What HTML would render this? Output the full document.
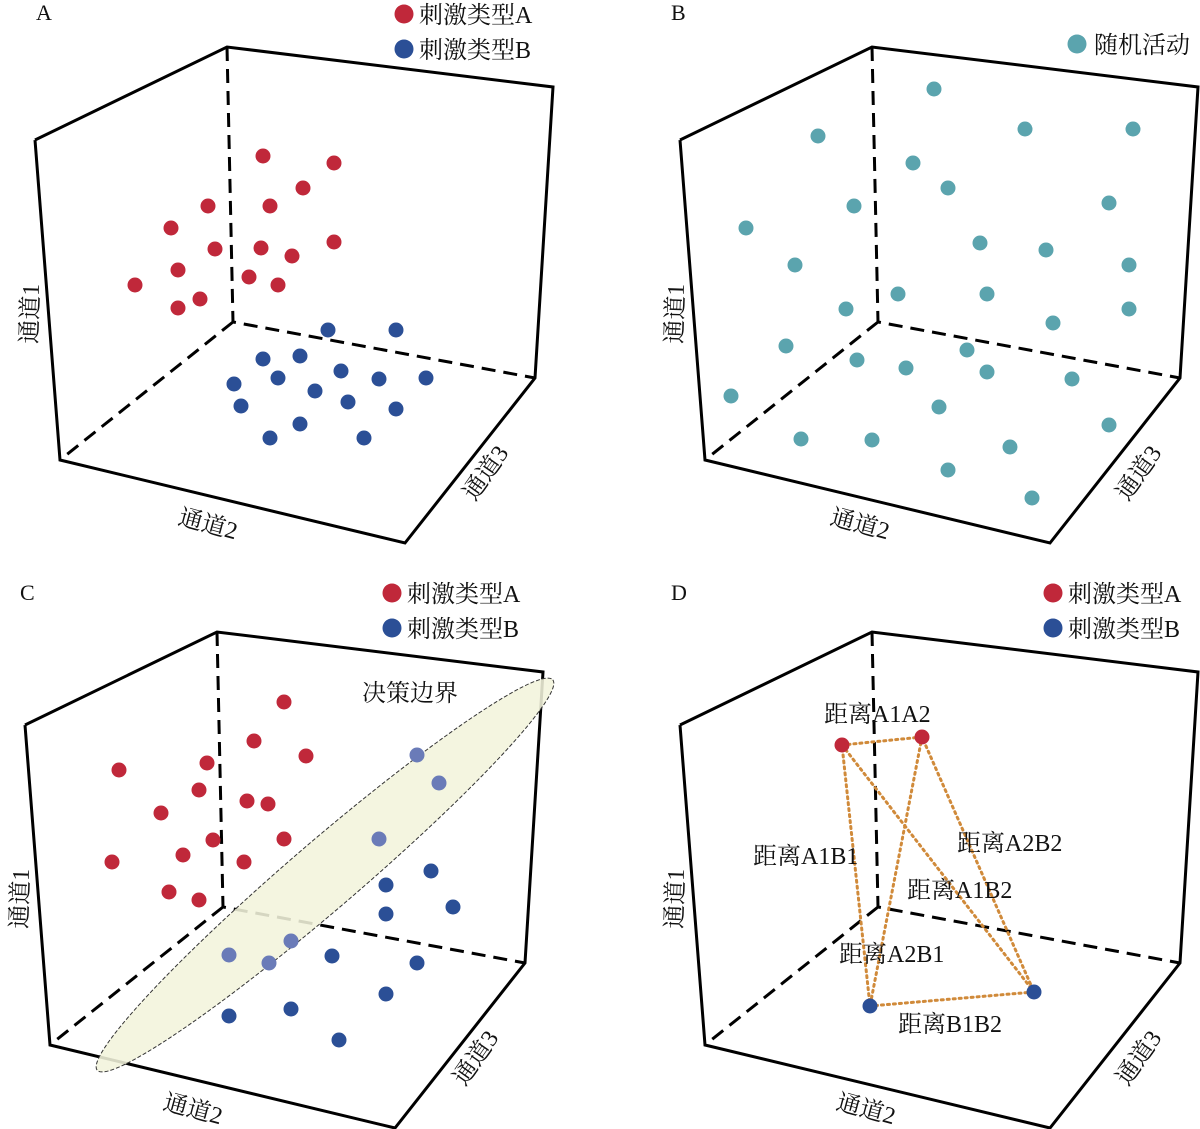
<!DOCTYPE html>
<html><head><meta charset="utf-8"><style>
html,body{margin:0;padding:0;background:#fff}
svg{display:block}
text{font-family:"Liberation Serif","Noto Serif CJK SC",serif;fill:#111}
.s{stroke:#000;stroke-width:3;fill:none}
.d{stroke:#000;stroke-width:3;fill:none;stroke-dasharray:14,8}
.r{fill:#c0283a}.b{fill:#2b4f96}.t{fill:#5ba4ae}.lb{fill:#6a7bb8}
.o{stroke:#d08a3a;stroke-width:3;stroke-dasharray:2,4;stroke-linecap:round;fill:none}
</style></head><body>
<svg width="1200" height="1129" viewBox="0 0 1200 1129" xmlns="http://www.w3.org/2000/svg">
<defs>
<g id="box">
<path class="s" d="M35,140 L60,460 L405,543 L535,378 L553,87 L227,47 L35,140"/>
<path class="d" d="M227,47 L233,322 L535,378 M233,322 L60,460"/>
</g>
</defs>

<!-- Panel A -->
<use href="#box"/>
<text x="36" y="20" font-size="22">A</text>
<circle class="r" cx="404" cy="14" r="9.5"/><text x="419" y="23" font-size="24">刺激类型A</text>
<circle class="b" cx="404" cy="49" r="9.5"/><text x="419" y="58" font-size="24">刺激类型B</text>
<text font-size="24" transform="translate(37,344) rotate(-88)">通道1</text>
<text font-size="24" transform="translate(177,524) rotate(15)">通道2</text>
<text font-size="24" transform="translate(475,502) rotate(-55)">通道3</text>
<g class="r">
<circle cx="263" cy="156" r="7.5"/><circle cx="334" cy="163" r="7.5"/><circle cx="303" cy="188" r="7.5"/><circle cx="208" cy="206" r="7.5"/><circle cx="270" cy="206" r="7.5"/><circle cx="171" cy="228" r="7.5"/><circle cx="215" cy="249" r="7.5"/><circle cx="261" cy="248" r="7.5"/><circle cx="334" cy="242" r="7.5"/><circle cx="292" cy="256" r="7.5"/><circle cx="178" cy="270" r="7.5"/><circle cx="249" cy="277" r="7.5"/><circle cx="278" cy="285" r="7.5"/><circle cx="135" cy="285" r="7.5"/><circle cx="200" cy="299" r="7.5"/><circle cx="178" cy="308" r="7.5"/>
</g>
<g class="b">
<circle cx="328" cy="330" r="7.5"/><circle cx="396" cy="330" r="7.5"/><circle cx="263" cy="359" r="7.5"/><circle cx="300" cy="356" r="7.5"/><circle cx="278" cy="378" r="7.5"/><circle cx="341" cy="371" r="7.5"/><circle cx="379" cy="379" r="7.5"/><circle cx="426" cy="378" r="7.5"/><circle cx="234" cy="384" r="7.5"/><circle cx="315" cy="391" r="7.5"/><circle cx="348" cy="402" r="7.5"/><circle cx="241" cy="406" r="7.5"/><circle cx="396" cy="409" r="7.5"/><circle cx="300" cy="424" r="7.5"/><circle cx="270" cy="438" r="7.5"/><circle cx="364" cy="438" r="7.5"/>
</g>

<!-- Panel B -->
<g transform="translate(645,0)"><use href="#box"/>
<text font-size="24" transform="translate(37,344) rotate(-88)">通道1</text>
<text font-size="24" transform="translate(184,524) rotate(15)">通道2</text>
<text font-size="24" transform="translate(483,502) rotate(-55)">通道3</text>
</g>
<text x="671" y="20" font-size="22">B</text>
<circle class="t" cx="1077" cy="44" r="9.5"/><text x="1094" y="53" font-size="24">随机活动</text>
<g class="t">
<circle cx="934" cy="89" r="7.5"/><circle cx="818" cy="136" r="7.5"/><circle cx="1025" cy="129" r="7.5"/><circle cx="1133" cy="129" r="7.5"/><circle cx="913" cy="163" r="7.5"/><circle cx="948" cy="188" r="7.5"/><circle cx="854" cy="206" r="7.5"/><circle cx="1109" cy="203" r="7.5"/><circle cx="746" cy="228" r="7.5"/><circle cx="980" cy="243" r="7.5"/><circle cx="1046" cy="250" r="7.5"/><circle cx="795" cy="265" r="7.5"/><circle cx="1129" cy="265" r="7.5"/><circle cx="898" cy="294" r="7.5"/><circle cx="987" cy="294" r="7.5"/><circle cx="846" cy="309" r="7.5"/><circle cx="1053" cy="323" r="7.5"/><circle cx="1129" cy="309" r="7.5"/><circle cx="786" cy="346" r="7.5"/><circle cx="967" cy="350" r="7.5"/><circle cx="857" cy="360" r="7.5"/><circle cx="906" cy="368" r="7.5"/><circle cx="987" cy="372" r="7.5"/><circle cx="1072" cy="379" r="7.5"/><circle cx="731" cy="396" r="7.5"/><circle cx="939" cy="407" r="7.5"/><circle cx="1109" cy="425" r="7.5"/><circle cx="801" cy="439" r="7.5"/><circle cx="872" cy="440" r="7.5"/><circle cx="1010" cy="447" r="7.5"/><circle cx="948" cy="470" r="7.5"/><circle cx="1032" cy="498" r="7.5"/>
</g>

<!-- Panel C -->
<g transform="translate(-10,585)"><use href="#box"/>
<text font-size="24" transform="translate(37,344) rotate(-88)">通道1</text>
<text font-size="24" transform="translate(172,524) rotate(15)">通道2</text>
<text font-size="24" transform="translate(475,502) rotate(-55)">通道3</text>
</g>
<text x="20" y="600" font-size="22">C</text>
<circle class="r" cx="392" cy="593" r="9.5"/><text x="407" y="602" font-size="24">刺激类型A</text>
<circle class="b" cx="392" cy="628" r="9.5"/><text x="407" y="637" font-size="24">刺激类型B</text>
<g class="r">
<circle cx="284" cy="702" r="7.5"/><circle cx="254" cy="741" r="7.5"/><circle cx="306" cy="756" r="7.5"/><circle cx="207" cy="763" r="7.5"/><circle cx="119" cy="770" r="7.5"/><circle cx="199" cy="790" r="7.5"/><circle cx="247" cy="801" r="7.5"/><circle cx="268" cy="804" r="7.5"/><circle cx="161" cy="813" r="7.5"/><circle cx="213" cy="840" r="7.5"/><circle cx="284" cy="839" r="7.5"/><circle cx="183" cy="855" r="7.5"/><circle cx="244" cy="862" r="7.5"/><circle cx="112" cy="862" r="7.5"/><circle cx="169" cy="892" r="7.5"/><circle cx="199" cy="900" r="7.5"/>
</g>
<ellipse cx="325" cy="875" rx="300" ry="34" transform="rotate(-40.6 325 875)" fill="#f3f4dc" fill-opacity="0.88" stroke="#333" stroke-width="1" stroke-dasharray="4,2"/>
<text x="362" y="701" font-size="24">决策边界</text>
<g class="lb">
<circle cx="417" cy="755" r="7.5"/><circle cx="439" cy="783" r="7.5"/><circle cx="379" cy="839" r="7.5"/><circle cx="291" cy="941" r="7.5"/><circle cx="229" cy="955" r="7.5"/><circle cx="269" cy="963" r="7.5"/>
</g>
<g class="b">
<circle cx="431" cy="871" r="7.5"/><circle cx="386" cy="885" r="7.5"/><circle cx="453" cy="907" r="7.5"/><circle cx="386" cy="914" r="7.5"/><circle cx="332" cy="956" r="7.5"/><circle cx="417" cy="963" r="7.5"/><circle cx="386" cy="994" r="7.5"/><circle cx="291" cy="1009" r="7.5"/><circle cx="229" cy="1016" r="7.5"/><circle cx="339" cy="1040" r="7.5"/>
</g>

<!-- Panel D -->
<g transform="translate(645,585)"><use href="#box"/>
<text font-size="24" transform="translate(37,344) rotate(-88)">通道1</text>
<text font-size="24" transform="translate(190,524) rotate(15)">通道2</text>
<text font-size="24" transform="translate(483,502) rotate(-55)">通道3</text>
</g>
<text x="671" y="600" font-size="22">D</text>
<circle class="r" cx="1053" cy="593" r="9.5"/><text x="1068" y="602" font-size="24">刺激类型A</text>
<circle class="b" cx="1053" cy="628" r="9.5"/><text x="1068" y="637" font-size="24">刺激类型B</text>
<path class="o" d="M842,745 L922,737 L1034,992 L870,1006 L842,745 L1034,992 M922,737 L870,1006"/>
<circle class="r" cx="842" cy="745" r="7.5"/><circle class="r" cx="922" cy="737" r="7.5"/>
<circle class="b" cx="870" cy="1006" r="7.5"/><circle class="b" cx="1034" cy="992" r="7.5"/>
<g font-size="24">
<text x="824" y="722">距离A1A2</text>
<text x="753" y="864">距离A1B1</text>
<text x="957" y="851">距离A2B2</text>
<text x="907" y="898">距离A1B2</text>
<text x="839" y="962">距离A2B1</text>
<text x="898" y="1032">距离B1B2</text>
</g>
</svg>
</body></html>
